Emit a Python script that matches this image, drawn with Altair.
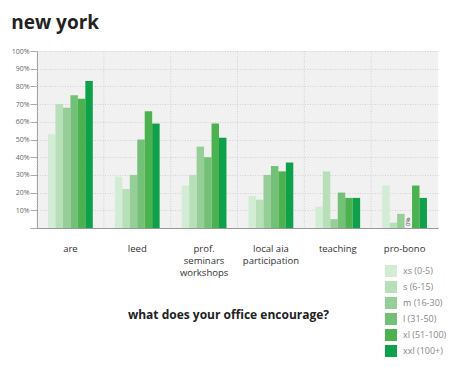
import altair as alt
import pandas as pd

categories = ["are", "leed", "prof.|seminars|workshops", "local aia|participation", "teaching", "pro-bono"]
sizes = ["xs (0-5)", "s (6-15)", "m (16-30)", "l (31-50)", "xl (51-100)", "xxl (100+)"]
values = {
    "are": [53, 70, 68, 75, 73, 83],
    "leed": [29, 22, 30, 50, 66, 59],
    "prof.|seminars|workshops": [24, 30, 46, 40, 59, 51],
    "local aia|participation": [18, 16, 30, 35, 32, 37],
    "teaching": [12, 32, 5, 20, 17, 17],
    "pro-bono": [24, 3, 8, 0, 24, 17],
}
colors = ["#d3ecd4", "#b7dfb8", "#95cf97", "#73c176", "#4cb250", "#0fa04a"]
y_ticks = list(range(0, 101, 10))

rows = []
for c in categories:
    for s, v in zip(sizes, values[c]):
        rows.append({"cat": c, "size": s, "value": v})
df = pd.DataFrame(rows)
sep = pd.DataFrame({"cat": categories})

xscale = alt.Scale(paddingInner=0.33, paddingOuter=0.165)
xaxis = alt.Axis(title="what does your office encourage?", labelAngle=0,
                 labelExpr="split(datum.label, '|')",
                 labelFont="Open Sans", labelFontSize=9.5, labelColor="#333",
                 labelPadding=15, labelLineHeight=12, labelBaseline="top",
                 labelOverlap=False,
                 ticks=False, grid=False, domainColor="#999", domainWidth=1,
                 titleFont="Open Sans", titleFontSize=12, titleFontWeight="bold",
                 titleColor="#222", titleX=191, titleY=86, titleBaseline="middle",
                 titleAnchor="middle")
yscale = alt.Scale(domain=[0, 100], nice=False)
yaxis = alt.Axis(title=None, values=y_ticks,
                 labelExpr="datum.value == 0 ? '' : datum.value + '%'",
                 labelOverlap=False,
                 labelFont="Open Sans", labelFontSize=7, labelColor="#666",
                 tickSize=7, tickColor="#aaa", labelPadding=1,
                 domainColor="#999", gridColor="#d2d2d2", gridDash=[1, 1.5],
                 gridWidth=1)

bars = alt.Chart(df).mark_bar().encode(
    x=alt.X("cat:N", sort=categories, scale=xscale, axis=xaxis),
    xOffset=alt.XOffset("size:N", sort=sizes,
                        scale=alt.Scale(paddingInner=0, paddingOuter=0)),
    y=alt.Y("value:Q", scale=yscale, axis=yaxis),
    color=alt.Color("size:N", sort=sizes,
                    scale=alt.Scale(domain=sizes, range=colors),
                    legend=alt.Legend(title=None, orient="none", legendX=348, legendY=214,
                                      symbolType="square", symbolSize=144,
                                      symbolStrokeWidth=0, symbolOpacity=1,
                                      labelFont="Open Sans", labelFontSize=9,
                                      labelColor="#888", rowPadding=4, labelOffset=6)),
)

zero = alt.Chart(df).transform_filter("datum.value == 0").mark_text(
    angle=270, align="left", baseline="middle", fontSize=6, font="Open Sans",
    color="#333", dx=2
).encode(
    x=alt.X("cat:N", sort=categories, scale=xscale, axis=xaxis),
    xOffset=alt.XOffset("size:N", sort=sizes),
    y=alt.Y("value:Q", scale=yscale, axis=yaxis),
    text=alt.value("0%"),
)

seps = alt.Chart(sep).mark_rule(color="#d2d2d2", strokeDash=[1, 1.5], xOffset=-11).encode(
    x=alt.X("cat:N", sort=categories, scale=xscale, axis=xaxis, bandPosition=0),
    y=alt.value(0), y2=alt.value(177),
)

chart = alt.layer(seps, bars, zero).properties(
    width=401, height=177,
    autosize=alt.AutoSizeParams(type="none"),
    padding={"left": 29, "top": 43, "right": 13, "bottom": 131},
    title=alt.TitleParams("new york", anchor="start", offset=14,
                          font="Open Sans", fontSize=19, fontWeight="bold", color="#222"),
).configure_view(fill="#f1f1f1", stroke=None)

chart.save("out.html", embed_options={"renderer": "svg", "actions": False})
